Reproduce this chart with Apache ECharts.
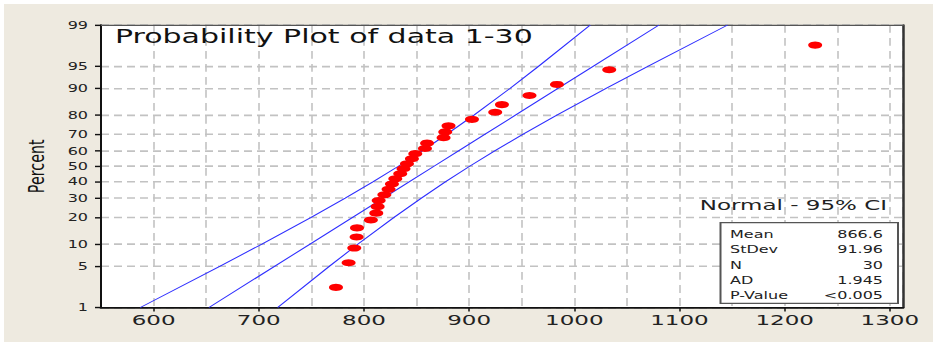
<!DOCTYPE html>
<html>
<head>
<meta charset="utf-8">
<script src="https://cdn.jsdelivr.net/npm/echarts@6/dist/echarts.min.js"></script>
<style>
  html, body { margin: 0; padding: 0; background: #eeeae0; overflow: hidden; }
  /* The chart is laid out on a taller canvas and squeezed vertically,
     which gives the wide, flat lettering and the oval point markers. */
  #wrap { width: 933px; height: 526px; transform: scaleY(0.65019); transform-origin: 0 0; }
  #chart { width: 933px; height: 526px; }
</style>
</head>
<body>
<div id="wrap"><div id="chart"></div></div>
<script>
// Probability-scale tick positions (percent) and x tick labels
const tickPercents = [1, 5, 10, 20, 30, 40, 50, 60, 70, 80, 90, 95, 99];
const xTicks = [600, 700, 800, 900, 1000, 1100, 1200, 1300];

// Sorted observations and their plotted percentiles
const dataValues = [773.4, 785.4, 790.8, 793.0, 793.4, 806.6, 811.7, 813.0, 814.0, 819.4,
                    823.4, 826.6, 829.8, 834.5, 837.6, 840.9, 845.6, 848.8, 858.0, 860.0,
                    875.7, 877.3, 880.4, 902.7, 924.8, 931.2, 957.4, 983.5, 1033.2, 1229.0];
const dataPercents = [2.3, 5.6, 8.9, 12.2, 15.5, 18.8, 22.0, 25.3, 28.6, 31.9,
                      35.2, 38.5, 41.8, 45.1, 48.4, 51.6, 54.9, 58.2, 61.5, 64.8,
                      68.1, 71.4, 74.7, 78.0, 81.3, 84.5, 87.8, 91.1, 94.4, 97.7];

// Fitted normal distribution
const fitMean = 866.6;
const fitStDev = 91.96;

// 95% confidence band, x value at each tick percent
const ciLower = [587.4, 663.3, 703.0, 749.8, 782.2, 808.9, 832.7, 855.5, 878.6, 904.6, 938.8, 965.9, 1015.2];
const ciUpper = [718.0, 767.3, 794.4, 828.6, 854.6, 877.7, 900.5, 924.3, 951.0, 983.4, 1030.2, 1069.9, 1145.8];

// Summary table
const statLabels = ['Mean', 'StDev', 'N', 'AD', 'P-Value'];
const statValues = ['866.6', '91.96', '30', '1.945', '<0.005'];

const titleText = 'Probability Plot of data 1-30';
const distText = 'Normal - 95% CI';

// Inverse standard normal CDF (Acklam's rational approximation)
function probit(p) {
  const a = [-3.969683028665376e+01, 2.209460984245205e+02, -2.759285104469687e+02, 1.383577518672690e+02, -3.066479806614716e+01, 2.506628277459239e+00];
  const b = [-5.447609879822406e+01, 1.615858368580409e+02, -1.556989798598866e+02, 6.680131188771972e+01, -1.328068155288572e+01];
  const c = [-7.784894002430293e-03, -3.223964580411365e-01, -2.400758277161838e+00, -2.549732539343734e+00, 4.374664141464968e+00, 2.938163982119970e+00];
  const d = [7.784695709041462e-03, 3.224671290700398e-01, 2.445134137142996e+00, 3.754408661907416e+00];
  const pl = 0.02425;
  let q, r;
  if (p < pl) {
    q = Math.sqrt(-2 * Math.log(p));
    return (((((c[0]*q+c[1])*q+c[2])*q+c[3])*q+c[4])*q+c[5]) / ((((d[0]*q+d[1])*q+d[2])*q+d[3])*q+1);
  }
  if (p > 1 - pl) {
    q = Math.sqrt(-2 * Math.log(1 - p));
    return -(((((c[0]*q+c[1])*q+c[2])*q+c[3])*q+c[4])*q+c[5]) / ((((d[0]*q+d[1])*q+d[2])*q+d[3])*q+1);
  }
  q = p - 0.5; r = q * q;
  return (((((a[0]*r+a[1])*r+a[2])*r+a[3])*r+a[4])*r+a[5])*q / (((((b[0]*r+b[1])*r+b[2])*r+b[3])*r+b[4])*r+1);
}

const zTicks = tickPercents.map(p => probit(p / 100));
const zMin = zTicks[0];
const zMax = zTicks[zTicks.length - 1];

function percentLabel(v) {
  for (let i = 0; i < zTicks.length; i++) {
    if (Math.abs(zTicks[i] - v) < 1e-6) return String(tickPercents[i]);
  }
  return '';
}

const FONT = 'DejaVu Sans';
const S = 0.65019;            // vertical squeeze applied by CSS
const py = y => y / S;        // screen y -> layout y

const points = dataValues.map((v, i) => [v, probit(dataPercents[i] / 100)]);
const fitLine = tickPercents.map(p => [fitMean + fitStDev * probit(p / 100), probit(p / 100)]);
const lowerLine = tickPercents.map((p, i) => [ciLower[i], probit(p / 100)]);
const upperLine = tickPercents.map((p, i) => [ciUpper[i], probit(p / 100)]);

const boxTop = py(222.7), boxBottom = py(303.3);
const rowY0 = py(234.5), rowStep = py(15.1);

const graphics = [
  { type: 'rect', shape: { x: 0, y: 0, width: 933, height: py(4) }, style: { fill: '#ffffff' }, silent: true },
  { type: 'rect', shape: { x: 0, y: 0, width: 4, height: 526 }, style: { fill: '#ffffff' }, silent: true },
  { type: 'text', x: 115, y: py(36.7), z: 100,
    style: { text: titleText, font: '30px "' + FONT + '"', fill: '#111', align: 'left', verticalAlign: 'middle' } },
  { type: 'text', x: 36, y: py(166.3), rotation: Math.PI / 2, z: 100,
    style: { text: 'Percent', font: '22px "' + FONT + '"', fill: '#111', align: 'center', verticalAlign: 'middle' } },
  { type: 'text', x: 887, y: py(205), z: 100,
    style: { text: distText, font: '23px "' + FONT + '"', fill: '#222', align: 'right', verticalAlign: 'middle' } },
  { type: 'rect', z: 100, shape: { x: 720.5, y: boxTop, width: 177.5, height: boxBottom - boxTop },
    style: { fill: '#ffffff', stroke: '#555', lineWidth: 2 } }
];
statLabels.forEach((t, i) => {
  graphics.push({ type: 'text', x: 730, y: rowY0 + i * rowStep, z: 101,
    style: { text: t, font: '16px "' + FONT + '"', fill: '#222', align: 'left', verticalAlign: 'middle' } });
  graphics.push({ type: 'text', x: 883, y: rowY0 + i * rowStep, z: 101,
    style: { text: statValues[i], font: '16px "' + FONT + '"', fill: '#222', align: 'right', verticalAlign: 'middle' } });
});

const chart = echarts.init(document.getElementById('chart'), null, { renderer: 'svg' });
chart.setOption({
  animation: false,
  backgroundColor: '#eeeae0',
  grid: { left: 101, right: 30, top: py(25), bottom: 526 - py(307.5), show: true, backgroundColor: '#ffffff', borderWidth: 0 },
  xAxis: [
    {
      type: 'value', min: 550, max: 1312.5, position: 'bottom',
      axisLine: { show: true, onZero: false, lineStyle: { color: '#111', width: 3 } },
      axisTick: { show: true, customValues: xTicks, length: 6, lineStyle: { color: '#111', width: 1.5 } },
      axisLabel: { customValues: xTicks, formatter: v => String(v), fontSize: 23, fontFamily: FONT, color: '#222', margin: 8 },
      splitLine: { show: false }
    },
    {
      type: 'value', min: 550, max: 1312.5, interval: 50, position: 'top',
      axisLine: { show: true, onZero: false, lineStyle: { color: '#555', width: 2 } },
      axisTick: { show: false }, axisLabel: { show: false },
      splitLine: { show: true, lineStyle: { color: '#c2c2c2', width: 1.6, type: [12, 8] } }
    }
  ],
  yAxis: [
    {
      type: 'value', min: zMin, max: zMax,
      axisLine: { show: true, onZero: false, lineStyle: { color: '#111', width: 2 } },
      axisTick: { show: true, customValues: zTicks, length: 6, lineStyle: { color: '#111', width: 2.2 } },
      axisLabel: { customValues: zTicks, formatter: percentLabel, fontSize: 16, fontFamily: FONT, color: '#222', margin: 13 },
      splitLine: { show: true, lineStyle: { color: '#c2c2c2', width: 2.6, type: [8, 5] } }
    },
    {
      type: 'value', min: zMin, max: zMax, position: 'right',
      axisLine: { show: true, onZero: false, lineStyle: { color: '#333', width: 2.5 } },
      axisTick: { show: false }, axisLabel: { show: false }, splitLine: { show: false }
    }
  ],
  series: [
    { type: 'line', data: lowerLine, showSymbol: false, symbol: 'none', lineStyle: { color: '#2f2fff', width: 1.4 }, z: 3 },
    { type: 'line', data: fitLine, showSymbol: false, symbol: 'none', lineStyle: { color: '#2f2fff', width: 1.4 }, z: 3 },
    { type: 'line', data: upperLine, showSymbol: false, symbol: 'none', lineStyle: { color: '#2f2fff', width: 1.4 }, z: 3 },
    { type: 'scatter', data: points, symbol: 'circle', symbolSize: [14, 11], itemStyle: { color: '#ff0000', opacity: 1 }, z: 4 }
  ],
  graphic: graphics
});
</script>
</body>
</html>
